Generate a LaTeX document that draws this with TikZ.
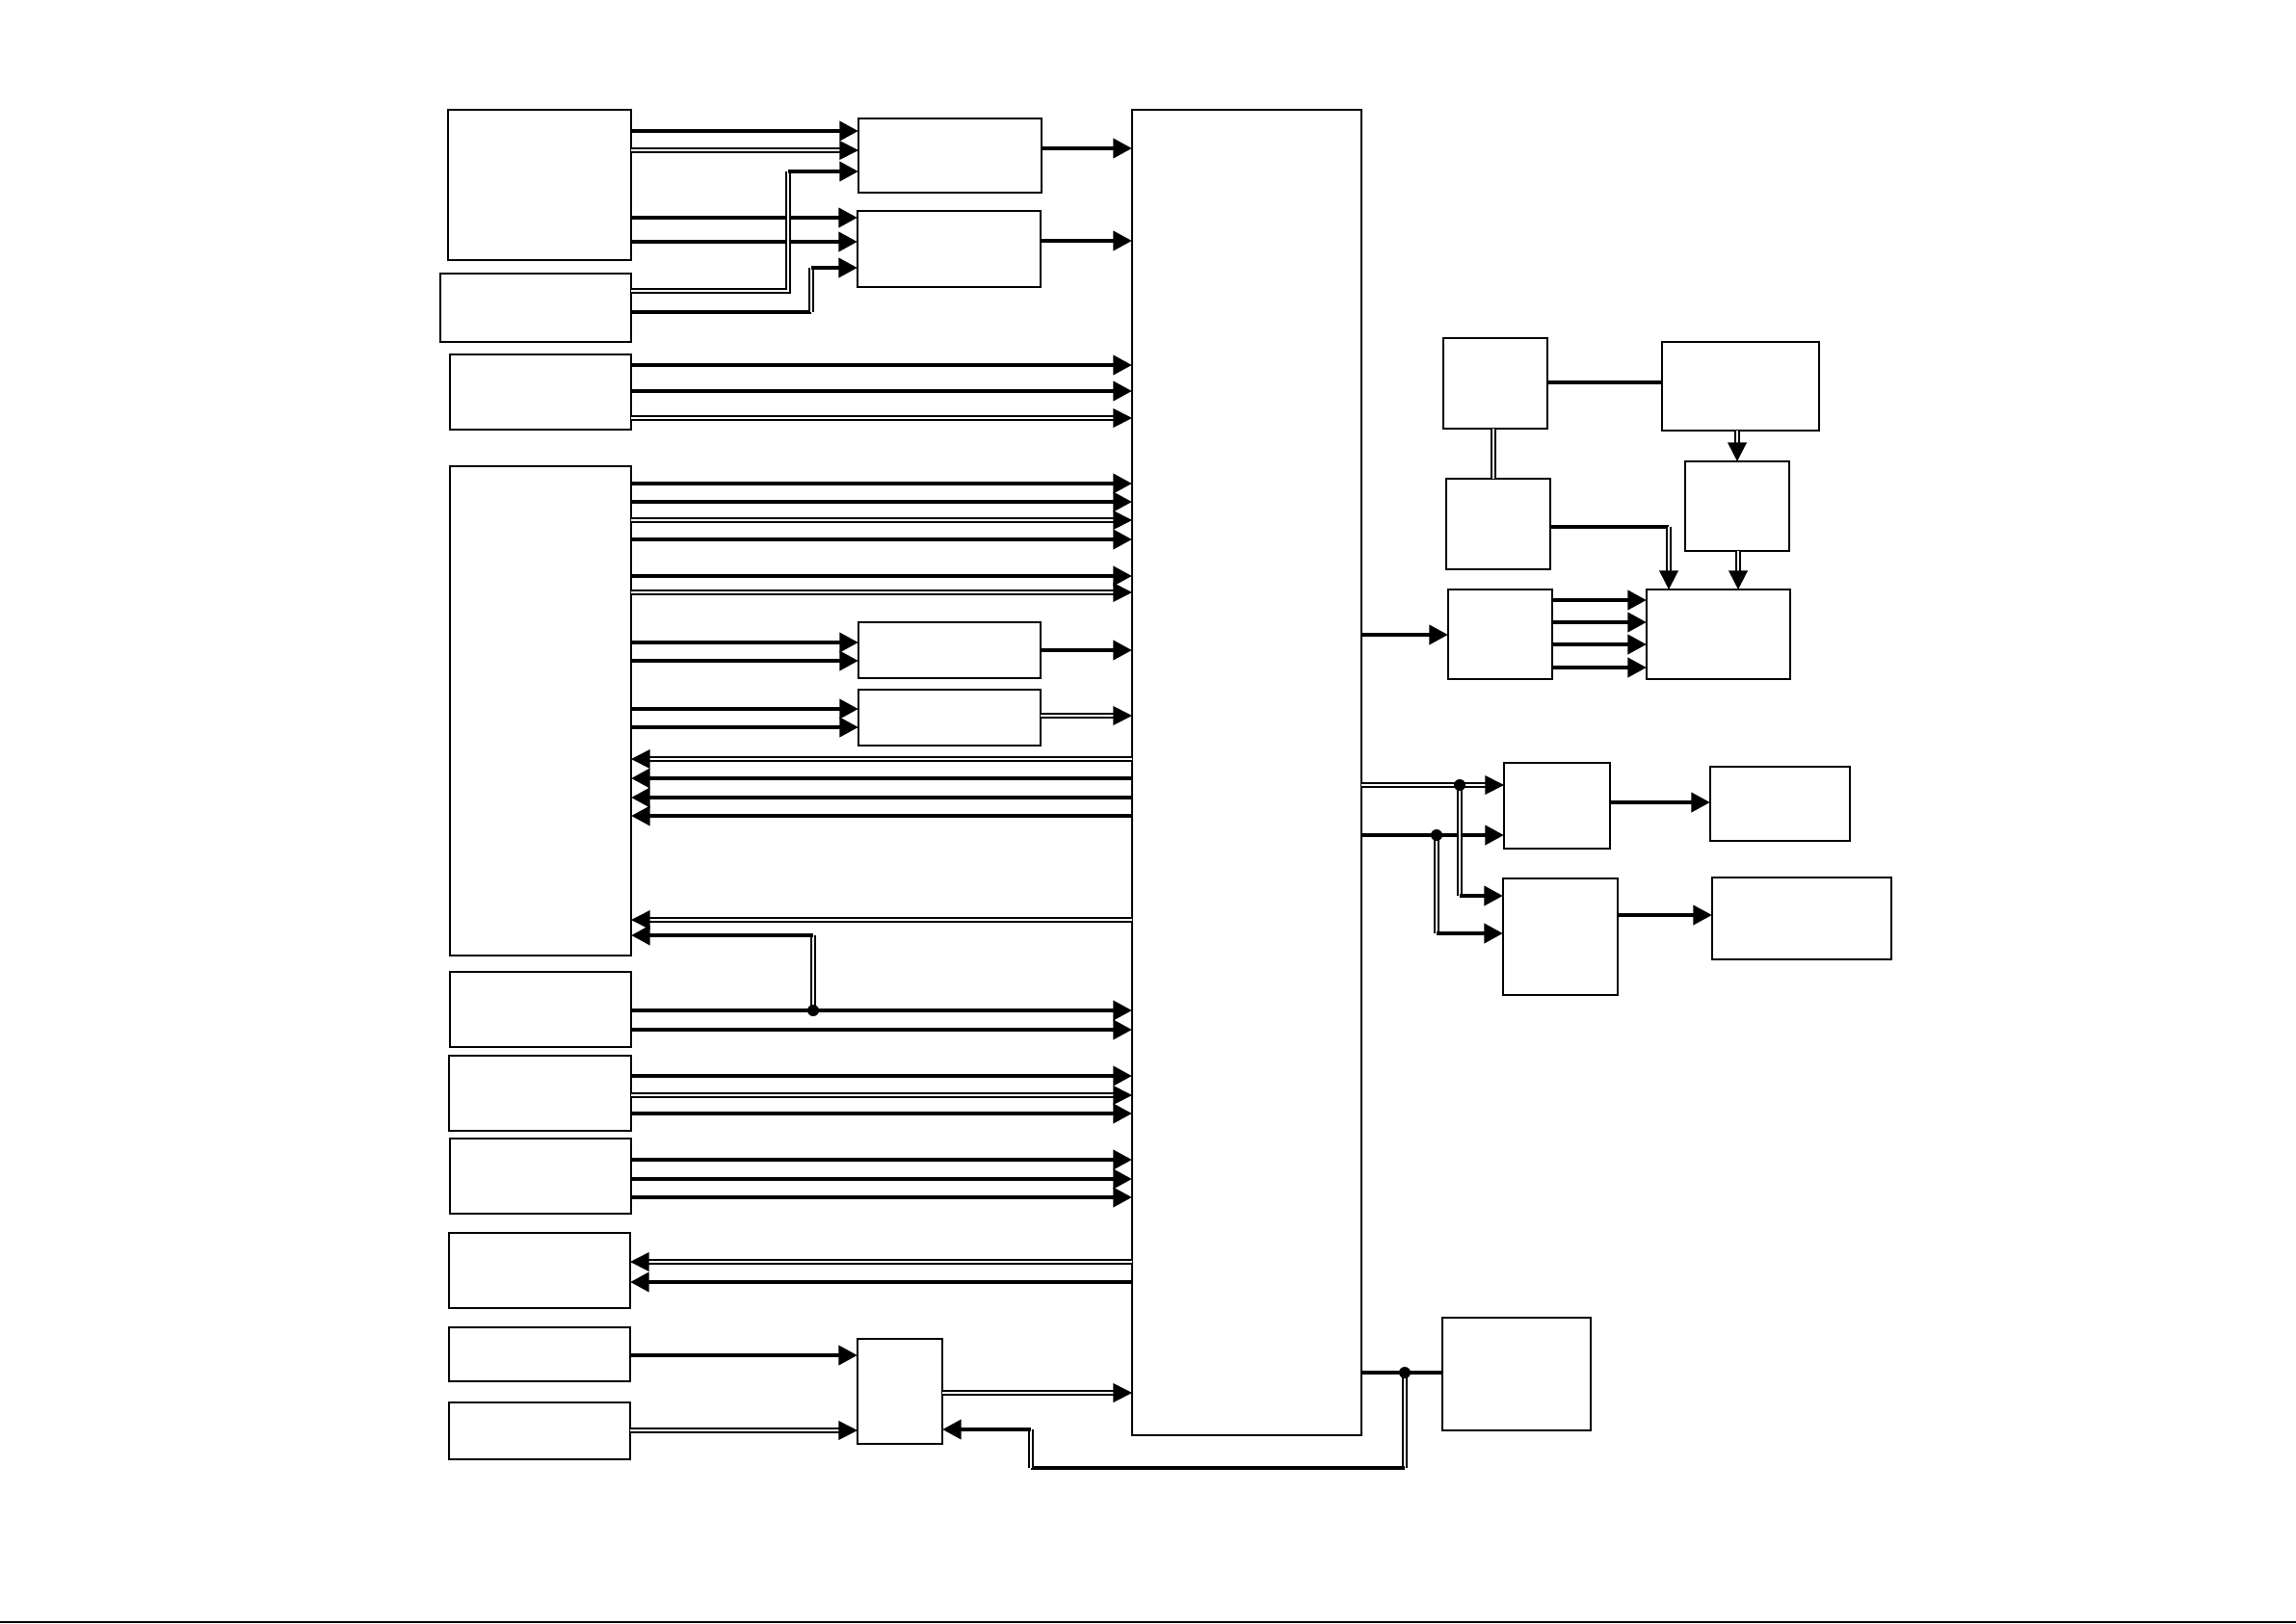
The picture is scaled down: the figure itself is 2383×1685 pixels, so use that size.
\documentclass[tikz,border=0pt]{standalone}
\usetikzlibrary{arrows.meta}
\newcommand{\block}[5]{%%
  \node[boxStyle,minimum width={(#4-#2)*0.01cm},minimum height={(#5-#3)*0.01cm}]
    (#1) at ({(#2+#4)/2},{(#3+#5)/2}) {};
}
\newcommand{\linkRight}[4]{%%
  \draw[#1] (#2.east |- 0,#4) -- (#3.west |- 0,#4);
}
\newcommand{\linkLeft}[4]{%%
  \draw[#1] (#2.west |- 0,#4) -- (#3.east |- 0,#4);
}
\newcommand{\tapDot}[1]{%%
  \fill[dotStyle] (#1) circle (6);
}

\begin{document}
\begin{tikzpicture}[x=0.01cm,y=-0.01cm,%%
  boxStyle/.style={draw,rectangle,line width=0.5pt,inner sep=0pt,outer sep=0pt},%%
  busStyle/.style={-{Triangle[length=5.6pt,width=5.6pt]},line width=1.35pt},%%
  pairStyle/.style={double,double distance=0.55pt,line width=0.5pt},%%
  pairArrowStyle/.style={pairStyle,-{Triangle[length=5.6pt,width=5.6pt]}},%%
  wireStyle/.style={-,line width=1.35pt},%%
  dotStyle/.style={black},%%
  frameStyle/.style={-,line width=0.4pt}
]
%%
%% Page size.
\useasboundingbox (0,0) rectangle (2383,1685);
\coordinate (pageLeft) at (0,1684);
\coordinate (pageRight) at (2383,1684);
\draw[frameStyle] (pageLeft) -- (pageRight);
%%
%% Left column.
\block{lone}{465}{114}{655}{270}
\block{ltwo}{457}{284}{655}{355}
\block{lthree}{467}{368}{655}{446}
\block{lfour}{467}{484}{655}{992}
\block{lfive}{467}{1009}{655}{1087}
\block{lsix}{466}{1096}{655}{1174}
\block{lseven}{467}{1182}{655}{1260}
\block{leight}{466}{1280}{654}{1358}
\block{lnine}{466}{1378}{654}{1434}
\block{lten}{466}{1456}{654}{1515}
%%
%% Middle column.
\block{mone}{891}{123}{1081}{200}
\block{mtwo}{890}{219}{1080}{298}
\block{mthree}{891}{646}{1080}{704}
\block{mfour}{891}{716}{1080}{774}
\block{mfive}{890}{1390}{978}{1499}
\block{main}{1175}{114}{1413}{1490}
%%
%% Right side.
\block{rone}{1498}{351}{1606}{445}
\block{rtwo}{1725}{355}{1888}{447}
\block{rthree}{1501}{497}{1609}{591}
\block{rfour}{1749}{479}{1857}{572}
\block{rfive}{1503}{612}{1611}{705}
\block{rsix}{1709}{612}{1858}{705}
\block{rseven}{1561}{792}{1671}{881}
\block{reight}{1775}{796}{1920}{873}
\block{rnine}{1560}{912}{1679}{1033}
\block{rten}{1777}{911}{1963}{996}
\block{releven}{1497}{1368}{1651}{1485}
%%
%% Upper left group.
\linkRight{busStyle}{lone}{mone}{136}
\linkRight{pairArrowStyle}{lone}{mone}{156}
\linkRight{busStyle}{lone}{mtwo}{226}
\linkRight{busStyle}{lone}{mtwo}{251}
\coordinate (kinkA) at (818,178);
\draw[pairStyle] (ltwo.east |- 0,302) -| (kinkA);
\draw[busStyle] (kinkA) -- (mone.west |- kinkA);
\coordinate (kinkB) at (842,324);
\coordinate (kinkC) at (842,278);
\draw[wireStyle] (ltwo.east |- kinkB) -- (kinkB);
\draw[pairStyle] (kinkB) -- (kinkC);
\draw[busStyle] (kinkC) -- (mtwo.west |- kinkC);
\linkRight{busStyle}{mone}{main}{154}
\linkRight{busStyle}{mtwo}{main}{250}
%%
%% Into the main block.
\foreach \y in {379,406}{
  \linkRight{busStyle}{lthree}{main}{\y}
};
\linkRight{pairArrowStyle}{lthree}{main}{434}
\foreach \y in {502,521,560,598}{
  \linkRight{busStyle}{lfour}{main}{\y}
};
\foreach \y in {540,615}{
  \linkRight{pairArrowStyle}{lfour}{main}{\y}
};
\foreach \y in {667,686}{
  \linkRight{busStyle}{lfour}{mthree}{\y}
};
\linkRight{busStyle}{mthree}{main}{675}
\foreach \y in {736,755}{
  \linkRight{busStyle}{lfour}{mfour}{\y}
};
\linkRight{pairArrowStyle}{mfour}{main}{743}
%%
%% Back from the main block.
\linkLeft{pairArrowStyle}{main}{lfour}{788}
\foreach \y in {808,828,847}{
  \linkLeft{busStyle}{main}{lfour}{\y}
};
\linkLeft{pairArrowStyle}{main}{lfour}{955}
%%
%% Lower left group.
\coordinate (tapA) at (844,1049);
\coordinate (tapB) at (844,971);
\linkRight{busStyle}{lfive}{main}{1049}
\linkRight{busStyle}{lfive}{main}{1069}
\draw[pairStyle] (tapA) -- (tapB);
\draw[busStyle] (tapB) -- (lfour.east |- tapB);
\tapDot{tapA}
\foreach \y in {1117,1156}{
  \linkRight{busStyle}{lsix}{main}{\y}
};
\linkRight{pairArrowStyle}{lsix}{main}{1137}
\foreach \y in {1204,1224,1243}{
  \linkRight{busStyle}{lseven}{main}{\y}
};
\linkLeft{pairArrowStyle}{main}{leight}{1310}
\linkLeft{busStyle}{main}{leight}{1331}
\linkRight{busStyle}{lnine}{mfive}{1407}
\linkRight{pairArrowStyle}{lten}{mfive}{1485}
\linkRight{pairArrowStyle}{mfive}{main}{1446}
%%
%% Feedback loop at the bottom.
\coordinate (tapC) at (1458,1425);
\coordinate (loopA) at (1458,1524);
\coordinate (loopB) at (1070,1524);
\coordinate (loopC) at (1070,1484);
\draw[wireStyle] (main.east |- tapC) -- (releven.west |- tapC);
\draw[pairStyle] (tapC) -- (loopA);
\draw[wireStyle] (loopA) -- (loopB);
\draw[pairStyle] (loopB) -- (loopC);
\draw[busStyle] (loopC) -- (mfive.east |- loopC);
\tapDot{tapC}
%%
%% Upper right group.
\linkRight{busStyle}{main}{rfive}{659}
\foreach \y in {623,646,669,693}{
  \linkRight{busStyle}{rfive}{rsix}{\y}
};
\draw[wireStyle] (rone.east |- 0,397) -- (rtwo.west |- 0,397);
\draw[pairStyle] (rone.south -| 1550,0) -- (rthree.north -| 1550,0);
\draw[pairArrowStyle] (rtwo.south -| 1803,0) -- (rfour.north -| 1803,0);
\draw[pairArrowStyle] (rfour.south -| 1804,0) -- (rsix.north -| 1804,0);
\coordinate (kinkD) at (1732,547);
\draw[wireStyle] (rthree.east |- kinkD) -- (kinkD);
\draw[pairArrowStyle] (kinkD) -- (rsix.north -| kinkD);
%%
%% Middle right group.
\coordinate (tapD) at (1515,815);
\coordinate (tapE) at (1491,867);
\coordinate (dropD) at (1515,930);
\coordinate (dropE) at (1491,969);
\linkRight{pairArrowStyle}{main}{rseven}{815}
\linkRight{busStyle}{main}{rseven}{867}
\draw[pairStyle] (tapD) -- (dropD);
\draw[busStyle] (dropD) -- (rnine.west |- dropD);
\draw[pairStyle] (tapE) -- (dropE);
\draw[busStyle] (dropE) -- (rnine.west |- dropE);
\tapDot{tapD}
\tapDot{tapE}
\linkRight{busStyle}{rseven}{reight}{833}
\linkRight{busStyle}{rnine}{rten}{950}
\end{tikzpicture}
\end{document}
